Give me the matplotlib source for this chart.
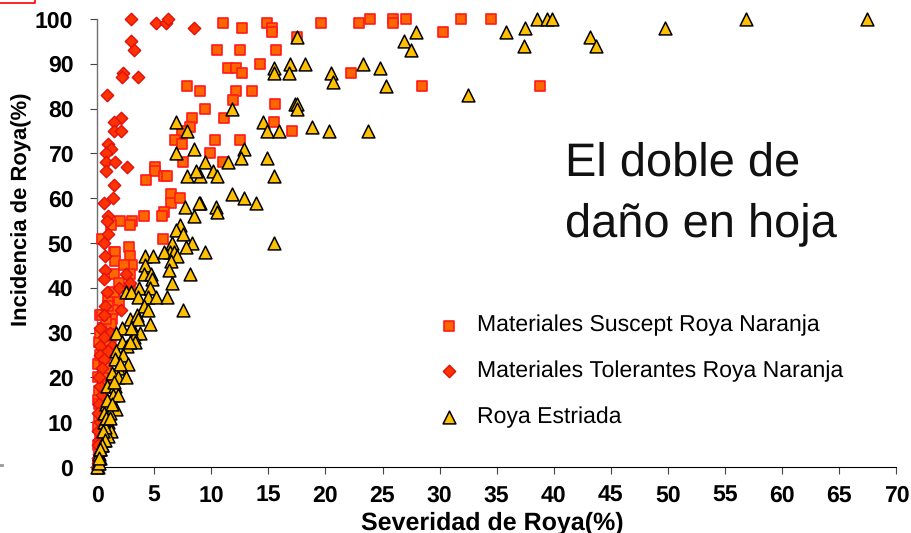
import matplotlib
matplotlib.use("Agg")
import matplotlib.pyplot as plt
from matplotlib.lines import Line2D

plt.rcParams['font.family'] = ['Liberation Sans', 'DejaVu Sans']
plt.rcParams['text.hinting'] = 'no_hinting'
plt.rcParams['text.hinting_factor'] = 1

# Materiales Suscept Roya Naranja
susc_x = [11.0, 12.7, 14.9, 15.3, 15.3, 17.5, 19.6, 22.9, 23.9, 25.9, 25.9, 27.1, 30.3, 31.9, 34.5,
          10.5, 12.5, 15.7, 11.5, 12.2, 12.7, 14.3, 22.2, 7.9, 9.0, 12.2, 13.6, 11.9, 9.5, 15.6,
          8.3, 11.1, 15.5, 8.1, 7.4, 17.1, 6.8, 10.3, 12.5, 7.4, 9.9, 7.5, 11.0, 5.1, 5.1, 5.9,
          6.1, 4.3, 28.5, 38.8, 6.5, 6.5, 7.3, 5.9, 5.7, 4.1, 3.1, 2.9, 2.0, 1.2, 5.8, 0.4, 2.8,
          1.5, 1.6, 2.9, 3.1, 1.6, 2.4, 1.5, 2.9, 1.9, 2.9, 1.0, 1.9, 0.3, 1.4, 1.3, 0.1, 0.7,
          0.1, 0.5, 0.2, 0.6, 1.0, 0.3, 0.7, 1.2, 0.2, 0.5, 0.1, 0.4, 0.2, 0.1, 0.3, 0.1, 0.2, 0.1,
          1.0, 1.5, 0.8, 1.2, 0.4, 0.9, 0.6, 0.3, 0.5, 0.8, 0.2, 0.4]
susc_y = [99, 98, 99, 98, 97, 96, 99, 99, 100, 100, 99, 100, 97, 100, 100,
          93, 93, 93, 89, 89, 88, 90, 88, 85, 84, 84, 84, 82, 80, 81,
          78, 78, 77, 76, 75, 75, 73, 73, 73, 72, 70, 68, 68, 67, 66, 65,
          65, 64, 85, 85, 61, 59, 60, 57, 56, 56, 55, 54, 55, 54, 51, 51, 49,
          48, 48, 47, 45, 46, 45, 43, 43, 41, 40, 38, 37, 34, 35, 33, 23, 22,
          20, 31, 28, 26, 30, 25, 19, 32, 17, 21, 15, 13, 11, 9, 7, 5, 3, 1,
          36, 39, 33, 29, 34, 27, 24, 30, 18, 22, 14, 12]

# Materiales Tolerantes Roya Naranja
tol_x = [3.0, 5.2, 6.0, 6.2, 8.5, 3.0, 3.2, 2.3, 2.2, 3.6, 0.9, 2.1, 1.5, 1.5, 2.1, 1.0, 1.2,
         0.8, 0.8, 1.6, 2.6, 0.8, 1.5, 1.4, 0.6, 1.0, 0.9, 1.0, 0.6, 0.7, 0.7, 0.6, 2.5, 1.9,
         0.9, 2.9, 0.7, 2.1, 0.6, 0.3, 1.1, 0.6, 0.3, 1.3, 0.3, 0.6, 1.0, 0.4, 0.3, 0.2, 0.4,
         0.2, 0.1, 0.3, 0.1, 0.2, 0.1, 0.2, 0.1, 0.1, 0.0]
tol_y = [100, 99, 99, 100, 98, 95, 93, 88, 87, 87, 83, 78, 77, 75, 75, 72, 71,
         70, 68, 68, 67, 66, 63, 60, 59, 56, 55, 52, 50, 47, 44, 42, 43, 40,
         39, 41, 36, 35, 34, 31, 30, 29, 27, 27, 25, 24, 26, 22, 18, 20, 16,
         14, 12, 10, 8, 6, 5, 3, 2, 1, 0]

# Roya Estriada
est_x = [17.5, 27.9, 26.9, 27.5, 35.8, 37.5, 38.5, 39.4, 39.8, 37.4, 15.5, 15.5, 16.9, 18.2, 16.8,
         20.5, 20.7, 23.3, 24.8, 25.3, 32.5, 11.8, 17.3, 17.5, 17.5, 14.5, 14.9, 15.9, 18.8, 20.3,
         23.7, 12.9, 12.6, 14.9, 9.5, 11.5, 10.2, 10.5, 9.0, 15.5, 11.8, 12.9, 13.9, 9.0, 10.4, 10.5,
         15.5, 9.5, 49.7, 43.2, 43.7, 56.8, 67.4, 6.9, 7.9, 6.9, 8.5, 7.9, 8.7, 7.7, 8.5, 8.9,
         7.3, 6.9, 7.5, 6.6, 8.3, 6.4, 7.8, 4.2, 4.9, 5.9, 6.7, 7.0, 6.5, 4.2, 6.3, 4.1, 4.7,
         4.8, 8.1, 6.6, 3.7, 4.6, 2.5, 3.0, 3.6, 4.5, 5.2, 6.1, 4.1, 4.5, 7.5, 2.9, 3.5, 3.6, 4.6,
         2.2, 1.7, 3.3, 3.8, 3.2, 3.3, 2.2, 1.7, 2.6, 2.3, 1.6, 2.7, 1.8, 1.3, 1.8, 2.5, 0.9,
         1.6, 1.4, 1.8, 0.8, 1.7, 1.1, 0.6, 1.0, 0.6, 1.2, 1.0, 0.6, 0.3, 0.7, 0.4, 0.2, 0.1,
         0.3, 0.1, 0.0, 0.2, 0.9, 1.3, 0.8, 0.5, 0.7, 0.4, 0.3, 0.2, 1.1, 1.5, 2.0, 2.9, 3.0]
est_y = [96, 97, 95, 93, 97, 98, 100, 100, 100, 94, 89, 88, 90, 90, 88,
         88, 86, 90, 89, 85, 83, 80, 81, 81, 80, 77, 75, 75, 76, 75,
         75, 71, 69, 69, 68, 68, 66, 65, 65, 65, 61, 60, 59, 59, 58, 57,
         50, 48, 98, 96, 94, 100, 100, 77, 75, 70, 71, 65, 66, 58, 56, 59,
         54, 53, 52, 50, 50, 48, 49, 47, 47, 48, 48, 47, 46, 45, 44, 43, 43,
         42, 43, 41, 40, 40, 39, 39, 38, 38, 38, 38, 36, 35, 35, 33, 34, 33, 32,
         31, 30, 30, 30, 29, 28, 28, 26, 27, 25, 24, 23, 22, 21, 20, 20, 18,
         18, 16, 16, 14, 13, 12, 12, 10, 10, 8, 7, 6, 4, 9, 5, 3, 1,
         2, 0, 0, 1, 15, 14, 11, 8, 6, 5, 4, 2, 11, 19, 23, 28, 31]

x_ticks = list(range(0, 75, 5))
y_ticks = list(range(0, 110, 10))

W, H = 911, 533
fig = plt.figure(figsize=(W / 100, H / 100), dpi=100)
ax = fig.add_axes([97 / W, 1 - 467 / H, (896.4 - 97) / W, (467 - 19) / H])

ax.scatter(susc_x, susc_y, marker='s', s=52, c='#FF6600', edgecolors='#FF1A1A', linewidths=1.2,
           clip_on=False, zorder=3, label='Materiales Suscept Roya Naranja')
ax.scatter(tol_x, tol_y, marker='D', s=40, c='#FF3300', edgecolors='#E01010', linewidths=1.0,
           clip_on=False, zorder=4, label='Materiales Tolerantes Roya Naranja')
ax.scatter(est_x, est_y, marker='^', s=85, c='#FFC000', edgecolors='black', linewidths=1.1,
           clip_on=False, zorder=5, label='Roya Estriada')

ax.set_xlim(0, 70)
ax.set_ylim(0, 100)
ax.set_xticks(x_ticks)
ax.set_yticks(y_ticks)
ax.tick_params(axis='both', length=5, width=0.8, color='#444444', labelsize=16.5)
ax.tick_params(axis='x', pad=8)
ax.tick_params(axis='y', pad=12)
for lab in ax.get_xticklabels() + ax.get_yticklabels():
    lab.set_fontweight('bold')
ax.spines['top'].set_visible(False)
ax.spines['right'].set_visible(False)
ax.spines['left'].set_color('#707070')
ax.spines['left'].set_linewidth(1.0)
ax.spines['bottom'].set_color('black')
ax.spines['bottom'].set_linewidth(0.8)

ax.set_xlabel('Severidad de Roya(%)', fontweight='bold', fontsize=18)
ax.xaxis.set_label_coords((492 - 97) / (896.4 - 97), -(529.5 - 467) / 448, transform=ax.transAxes)
ax.xaxis.label.set_va('baseline')
ax.set_ylabel('Incidencia de Roya(%)', fontweight='bold', fontsize=15.5)
ax.yaxis.set_label_coords((22 - 97) / (896.4 - 97), (467 - 209) / 448, transform=ax.transAxes)
ax.yaxis.label.set_va('center')

fig.text(565 / W, 1 - 163 / H, 'El doble de', fontsize=34.2, color='#111111', va='center', ha='left')
fig.text(565 / W, 1 - 224 / H, 'daño en hoja', fontsize=34.2, color='#111111', va='center', ha='left')

ax.legend(loc='upper left', bbox_to_anchor=(426 / W, 1 - 315 / H), bbox_transform=fig.transFigure,
          frameon=False, fontsize=16.6, labelspacing=1.06, handletextpad=0.2, borderpad=0, borderaxespad=0,
          scatterpoints=1, markerscale=1.0)

# leftovers of the slide at the picture edge
fig.add_artist(Line2D([0, 35 / W, 35 / W], [1 - 3 / H, 1 - 3 / H, 1.0], color='#FF0000', lw=1.2))
fig.add_artist(Line2D([0, 1.5 / W], [1 - 465 / H, 1 - 465 / H], color='#999999', lw=2))

fig.savefig('out.png', dpi=100)
